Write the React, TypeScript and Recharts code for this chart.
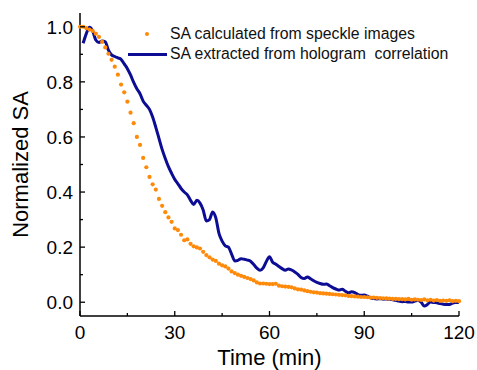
import React from 'react';
import { LineChart, Line, XAxis, YAxis } from 'recharts';

const FONT = '"Liberation Sans", Arial, Helvetica, sans-serif';
const ORANGE = '#ff8a0a';
const NAVY = '#0c0c94';

// time in minutes, one sample per minute
const minutes = [
  0, 1, 2, 3, 4, 5, 6, 7, 8, 9, 10, 11, 12, 13, 14, 15, 16, 17, 18, 19, 20,
  21, 22, 23, 24, 25, 26, 27, 28, 29, 30, 31, 32, 33, 34, 35, 36, 37, 38, 39, 40,
  41, 42, 43, 44, 45, 46, 47, 48, 49, 50, 51, 52, 53, 54, 55, 56, 57, 58, 59, 60,
  61, 62, 63, 64, 65, 66, 67, 68, 69, 70, 71, 72, 73, 74, 75, 76, 77, 78, 79, 80,
  81, 82, 83, 84, 85, 86, 87, 88, 89, 90, 91, 92, 93, 94, 95, 96, 97, 98, 99, 100,
  101, 102, 103, 104, 105, 106, 107, 108, 109, 110, 111, 112, 113, 114, 115, 116, 117, 118, 119, 120,
];

// SA calculated from speckle images
const speckleSA = [
  1.0, 1.0, 0.995, 0.99, 0.985, 0.975, 0.963, 0.945, 0.925, 0.902, 0.88,
  0.855, 0.826, 0.79, 0.762, 0.728, 0.688, 0.65, 0.6, 0.571, 0.524,
  0.49, 0.455, 0.428, 0.409, 0.375, 0.35, 0.327, 0.308, 0.292, 0.268,
  0.262, 0.245, 0.225, 0.228, 0.212, 0.203, 0.199, 0.195, 0.183, 0.171,
  0.163, 0.155, 0.15, 0.14, 0.134, 0.13, 0.122, 0.112, 0.106, 0.1,
  0.096, 0.092, 0.088, 0.084, 0.079, 0.072, 0.068, 0.068, 0.067, 0.066,
  0.066, 0.067, 0.06, 0.058, 0.057, 0.056, 0.054, 0.05, 0.047, 0.046,
  0.043, 0.04, 0.038, 0.036, 0.035, 0.033, 0.032, 0.031, 0.03, 0.029,
  0.028, 0.027, 0.026, 0.025, 0.023, 0.022, 0.021, 0.02, 0.019, 0.019,
  0.018, 0.017, 0.017, 0.016, 0.015, 0.014, 0.014, 0.013, 0.012, 0.012,
  0.011, 0.011, 0.01, 0.012, 0.009, 0.01, 0.009, 0.008, 0.01, 0.007,
  0.009, 0.006, 0.008, 0.005, 0.006, 0.005, 0.007, 0.004, 0.005, 0.004,
];

// SA extracted from hologram correlation (no sample at t = 0)
const hologramSA = [
  null, 0.94, 0.975, 0.998, 0.985, 0.952, 0.943, 0.948, 0.945, 0.915, 0.898,
  0.892, 0.887, 0.882, 0.865, 0.848, 0.825, 0.798, 0.775, 0.757, 0.73,
  0.715, 0.7, 0.672, 0.635, 0.595, 0.555, 0.522, 0.492, 0.468, 0.446,
  0.43, 0.413, 0.4, 0.39, 0.37, 0.355, 0.37, 0.36, 0.335, 0.295,
  0.3, 0.328, 0.306, 0.25, 0.222, 0.205, 0.2, 0.175, 0.15, 0.152,
  0.158, 0.156, 0.153, 0.149, 0.137, 0.124, 0.116, 0.125, 0.148, 0.165,
  0.145, 0.138, 0.13, 0.122, 0.116, 0.121, 0.117, 0.11, 0.101, 0.09,
  0.086, 0.092, 0.085, 0.078, 0.072, 0.068, 0.065, 0.066, 0.06, 0.053,
  0.048, 0.044, 0.047, 0.04, 0.034, 0.038, 0.035, 0.028, 0.025, 0.026,
  0.022, 0.016, 0.013, 0.012, 0.013, 0.011, 0.012, 0.011, 0.009, 0.007,
  0.004, 0.002, 0.003, 0.001, 0.001, 0.004, 0.007, 0.0, -0.014, -0.008,
  0.001, -0.001, -0.002, -0.005, -0.007, -0.008, -0.008, -0.003, -0.001, 0.0,
];

const xTicks = [0, 15, 30, 45, 60, 75, 90, 105, 120];
const xLabelled = [0, 30, 60, 90, 120];
const yTicks = [0, 0.1, 0.2, 0.3, 0.4, 0.5, 0.6, 0.7, 0.8, 0.9, 1.0];
const yLabelled = [0, 0.2, 0.4, 0.6, 0.8, 1.0];

const legendItems = [
  { label: 'SA calculated from speckle images', kind: 'dot' },
  { label: 'SA extracted from hologram  correlation', kind: 'line' },
];

const data = minutes.map((t, i) => ({ t, speckle: speckleSA[i], hologram: hologramSA[i] }));

const MAJOR = 5;
const MINOR = 3;
const tickStroke = { stroke: '#000', strokeWidth: 1.3 };

const BottomTick = (props: any) => {
  const { x, y, payload } = props;
  const major = xLabelled.includes(payload.value);
  return (
    <g>
      <line x1={x} x2={x} y1={y} y2={y - (major ? MAJOR : MINOR)} {...tickStroke} />
      {major && (
        <text x={x} y={y + 23} textAnchor="middle" fontSize={19} fontFamily={FONT} fill="#000">
          {payload.value}
        </text>
      )}
    </g>
  );
};

const TopTick = (props: any) => {
  const { x, y, payload } = props;
  const major = xLabelled.includes(payload.value);
  return <line x1={x} x2={x} y1={y} y2={y + (major ? MAJOR : MINOR)} {...tickStroke} />;
};

const LeftTick = (props: any) => {
  const { x, y, payload } = props;
  const major = yLabelled.some((v) => Math.abs(v - payload.value) < 1e-6);
  return (
    <g>
      <line x1={x} x2={x + (major ? MAJOR : MINOR)} y1={y} y2={y} {...tickStroke} />
      {major && (
        <text x={x - 7} y={y + 7} textAnchor="end" fontSize={19} fontFamily={FONT} fill="#000">
          {payload.value.toFixed(1)}
        </text>
      )}
    </g>
  );
};

const RightTick = (props: any) => {
  const { x, y, payload } = props;
  const major = yLabelled.some((v) => Math.abs(v - payload.value) < 1e-6);
  return <line x1={x} x2={x - (major ? MAJOR : MINOR)} y1={y} y2={y} {...tickStroke} />;
};

const axisLine = { stroke: '#000', strokeWidth: 1.5 };

const App = () => {
  return (
    <div style={{ position: 'absolute', left: 0, top: 0, width: 477, height: 370, background: '#fff' }}>
      <LineChart width={477} height={370} data={data} margin={{ top: 13, right: 18, bottom: 0, left: 20 }}>
        <XAxis
          xAxisId="bottom"
          dataKey="t"
          type="number"
          domain={[0, 120]}
          ticks={xTicks}
          interval={0}
          height={54}
          tickSize={0}
          tickMargin={0}
          tickLine={false}
          axisLine={axisLine}
          tick={<BottomTick />}
          label={{ value: 'Time (min)', position: 'insideBottom', offset: 5, fontSize: 22, fontFamily: FONT, fill: '#000' }}
        />
        <XAxis
          xAxisId="top"
          orientation="top"
          dataKey="t"
          type="number"
          domain={[0, 120]}
          ticks={xTicks}
          interval={0}
          height={0}
          tickSize={0}
          tickMargin={0}
          tickLine={false}
          axisLine={axisLine}
          tick={<TopTick />}
        />
        <YAxis
          yAxisId="left"
          type="number"
          domain={[-0.05, 1.05]}
          allowDataOverflow
          ticks={yTicks}
          interval={0}
          width={60}
          tickSize={0}
          tickMargin={0}
          tickLine={false}
          axisLine={axisLine}
          tick={<LeftTick />}
          label={{
            value: 'Normalized SA',
            angle: -90,
            position: 'insideLeft',
            offset: 0,
            fontSize: 22,
            fontFamily: FONT,
            fill: '#000',
            style: { textAnchor: 'middle' },
          }}
        />
        <YAxis
          yAxisId="right"
          orientation="right"
          type="number"
          domain={[-0.05, 1.05]}
          allowDataOverflow
          ticks={yTicks}
          interval={0}
          width={0}
          tickSize={0}
          tickMargin={0}
          tickLine={false}
          axisLine={axisLine}
          tick={<RightTick />}
        />
        <Line
          xAxisId="bottom"
          yAxisId="left"
          dataKey="speckle"
          stroke="none"
          dot={{ r: 2.1, fill: ORANGE, stroke: 'none' }}
          isAnimationActive={false}
        />
        <Line
          xAxisId="bottom"
          yAxisId="left"
          dataKey="hologram"
          type="monotone"
          stroke={NAVY}
          strokeWidth={3}
          dot={false}
          connectNulls={false}
          isAnimationActive={false}
        />
      </LineChart>
      <div style={{ position: 'absolute', left: 125, top: 24, fontFamily: FONT, fontSize: 15.8, color: '#111' }}>
        {legendItems.map((item) => (
          <div key={item.label} style={{ display: 'flex', alignItems: 'center', height: 20 }}>
            <div style={{ width: 45, height: 20, position: 'relative' }}>
              {item.kind === 'dot' ? (
                <div
                  style={{
                    position: 'absolute',
                    left: 20,
                    top: 8,
                    width: 4,
                    height: 4,
                    borderRadius: 2,
                    background: ORANGE,
                  }}
                />
              ) : (
                <div
                  style={{ position: 'absolute', left: 3, top: 8.5, width: 39, height: 3, background: NAVY }}
                />
              )}
            </div>
            <span style={{ whiteSpace: 'pre' }}>{item.label}</span>
          </div>
        ))}
      </div>
    </div>
  );
};

export default App;
